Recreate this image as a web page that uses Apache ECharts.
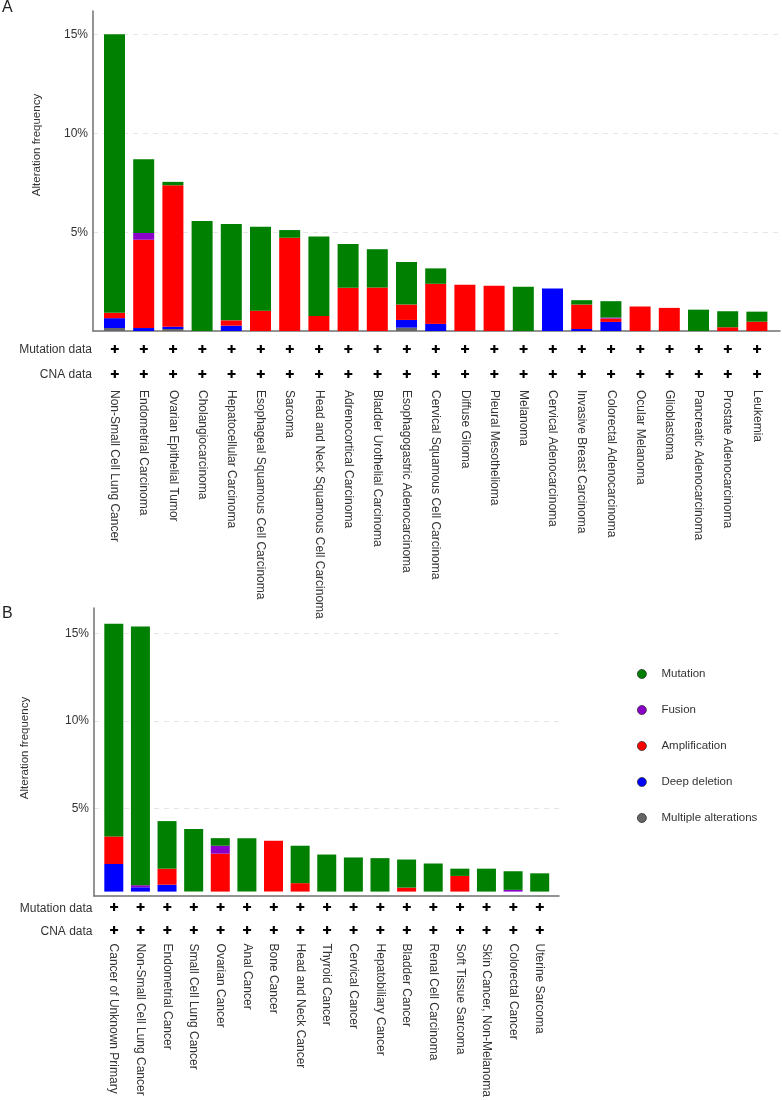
<!DOCTYPE html>
<html><head><meta charset="utf-8">
<script src="https://cdn.jsdelivr.net/npm/echarts@6.0.0/dist/echarts.min.js"></script>
<style>html,body{margin:0;padding:0;background:#fff}#c{width:782px;height:1100px}</style>
</head><body><div id="c"></div>
<script>
// ---------- data ----------
const legendNames = ['Mutation', 'Fusion', 'Amplification', 'Deep deletion', 'Multiple alterations'];
const yTicks = [5, 10, 15];

const catA = ['Non-Small Cell Lung Cancer','Endometrial Carcinoma','Ovarian Epithelial Tumor','Cholangiocarcinoma','Hepatocellular Carcinoma','Esophageal Squamous Cell Carcinoma','Sarcoma','Head and Neck Squamous Cell Carcinoma','Adrenocortical Carcinoma','Bladder Urothelial Carcinoma','Esophagogastric Adenocarcinoma','Cervical Squamous Cell Carcinoma','Diffuse Glioma','Pleural Mesothelioma','Melanoma','Cervical Adenocarcinoma','Invasive Breast Carcinoma','Colorectal Adenocarcinoma','Ocular Melanoma','Glioblastoma','Pancreatic Adenocarcinoma','Prostate Adenocarcinoma','Leukemia'];
const mulA = [0.15,0,0.10,0,0,0,0,0,0,0,0.17,0,0,0,0,0,0,0,0,0,0,0,0];
const delA = [0.50,0.15,0.12,0,0.27,0,0,0,0,0,0.39,0.36,0,0,0,2.15,0.10,0.46,0,0,0,0,0];
const ampA = [0.27,4.47,7.16,0,0.27,1.03,4.72,0.76,2.19,2.20,0.78,2.03,2.34,2.29,0,0,1.24,0.17,1.24,1.17,0,0.19,0.47];
const fusA = [0,0.34,0,0,0,0,0,0,0,0,0,0,0,0,0,0,0,0.05,0,0,0,0,0];
const mutA = [14.10,3.74,0.17,5.57,4.88,4.25,0.39,4.03,2.21,1.94,2.15,0.78,0,0,2.24,0,0.22,0.83,0,0,1.08,0.81,0.51];

const catB = ['Cancer of Unknown Primary','Non-Small Cell Lung Cancer','Endometrial Cancer','Small Cell Lung Cancer','Ovarian Cancer','Anal Cancer','Bone Cancer','Head and Neck Cancer','Thyroid Cancer','Cervical Cancer','Hepatobiliary Cancer','Bladder Cancer','Renal Cell Carcinoma','Soft Tissue Sarcoma','Skin Cancer, Non-Melanoma','Colorectal Cancer','Uterine Sarcoma'];
const mulB = [0,0,0,0,0,0,0,0,0,0,0,0,0,0,0,0,0];
const delB = [1.60,0.25,0.40,0,0,0,0,0,0,0,0,0,0,0,0,0,0];
const ampB = [1.60,0,0.93,0,2.20,0,2.95,0.49,0,0,0,0.23,0,0.91,0,0,0];
const fusB = [0,0.12,0,0,0.46,0,0,0,0,0,0,0,0,0,0,0.10,0];
const mutB = [12.33,15.01,2.76,3.63,0.44,3.10,0,2.17,2.15,1.98,1.94,1.63,1.63,0.42,1.33,1.08,1.06];

// ---------- style ----------
const FONT = 'Liberation Sans';
const COLORS = {'Mutation':'#008000','Fusion':'#8B00C9','Amplification':'#FF0000','Deep deletion':'#0000FF','Multiple alterations':'#666666'};
const AXIS_COLOR = '#707070';

function frameX(gi){
  return {gridIndex:gi,type:'value',min:0,max:1,
    axisLine:{show:true,onZero:false,lineStyle:{color:AXIS_COLOR,width:1.5}},
    axisTick:{show:false},axisLabel:{show:false},splitLine:{show:false}};
}
function frameY(gi,max){
  return {gridIndex:gi,type:'value',min:0,max:max,interval:5,
    axisLine:{show:true,lineStyle:{color:AXIS_COLOR,width:1.5}},
    axisTick:{show:false},
    axisLabel:{margin:5,fontSize:12,color:'#333',fontFamily:FONT,
      formatter:v=> yTicks.indexOf(v)>=0 ? v+'%' : ''},
    splitLine:{show:true,showMinLine:false,showMaxLine:false,lineStyle:{type:[5,5],color:'#e6e6e6',width:1}}};
}
function hiddenY(gi,max){ return {gridIndex:gi,type:'value',min:0,max:max,show:false}; }
function catMain(gi,cats,margin){
  return {gridIndex:gi,type:'category',data:cats,position:'bottom',
    axisLine:{show:false},axisTick:{show:false},splitLine:{show:false},
    axisLabel:{interval:0,rotate:-90,margin:margin,fontSize:12,color:'#333',fontFamily:FONT}};
}
function catCross(gi,cats,offset,name){
  return {gridIndex:gi,type:'category',data:cats,position:'bottom',offset:offset,
    name:name,nameLocation:'start',nameGap:8,
    nameTextStyle:{fontSize:12,color:'#333',fontFamily:FONT},
    axisLine:{show:false},axisTick:{show:false},splitLine:{show:false},
    axisLabel:{interval:0,margin:0,verticalAlign:'middle',formatter:()=>'\u271A',
      fontFamily:'DejaVu Sans',fontSize:11,color:'#000'}};
}
function barSeries(stack,xi,yi,width,arrs){
  const order = [['Multiple alterations',arrs.mul],['Deep deletion',arrs.del],['Amplification',arrs.amp],['Fusion',arrs.fus],['Mutation',arrs.mut]];
  return order.map(([n,d])=>({name:n,type:'bar',stack:stack,xAxisIndex:xi,yAxisIndex:yi,
    barWidth:width,data:d,itemStyle:{color:COLORS[n]},emphasis:{disabled:true}}));
}

const option = {
  animation:false,
  textStyle:{fontFamily:FONT},
  grid:[
    {left:93,top:11,width:687,height:320},
    {left:99.9,top:11,width:671.6,height:320},
    {left:94,top:608,width:465,height:288},
    {left:100.5,top:608,width:452.5,height:288}
  ],
  xAxis:[
    frameX(0),
    catMain(1,catA,59),
    catCross(1,catA,19,'Mutation data'),
    catCross(1,catA,44,'CNA data'),
    frameX(2),
    catMain(3,catB,52),
    catCross(3,catB,17,'Mutation data'),
    catCross(3,catB,40,'CNA data')
  ],
  yAxis:[frameY(0,16.2),hiddenY(1,16.2),frameY(2,16.45),hiddenY(3,16.45)],
  legend:{data:legendNames,orient:'vertical',left:632,top:662,icon:'circle',
    itemWidth:9,itemHeight:9,itemGap:22,selectedMode:false,
    itemStyle:{borderColor:'#333',borderWidth:0.8},
    textStyle:{fontSize:11.5,color:'#333',fontFamily:FONT,lineHeight:14,padding:[0,0,0,10]}},
  graphic:[
    {type:'text',left:2,top:0,style:{text:'A',fontSize:16,fill:'#222',fontFamily:FONT}},
    {type:'text',left:2,top:606,style:{text:'B',fontSize:16,fill:'#222',fontFamily:FONT}},
    {type:'text',x:37,y:145,rotation:Math.PI/2,style:{text:'Alteration frequency',fontSize:11.5,fill:'#333',fontFamily:FONT,align:'center',verticalAlign:'middle'}},
    {type:'text',x:25,y:748,rotation:Math.PI/2,style:{text:'Alteration frequency',fontSize:11.5,fill:'#333',fontFamily:FONT,align:'center',verticalAlign:'middle'}}
  ],
  series:[
    {type:'bar',xAxisIndex:0,yAxisIndex:0,data:[],silent:true},
    {type:'bar',xAxisIndex:4,yAxisIndex:2,data:[],silent:true},
    ...barSeries('A',1,1,21,{mul:mulA,del:delA,amp:ampA,fus:fusA,mut:mutA}),
    ...barSeries('B',5,3,19,{mul:mulB,del:delB,amp:ampB,fus:fusB,mut:mutB})
  ]
};
const chart = echarts.init(document.getElementById('c'),null,{renderer:'canvas'});
chart.setOption(option);
</script>
</body></html>
